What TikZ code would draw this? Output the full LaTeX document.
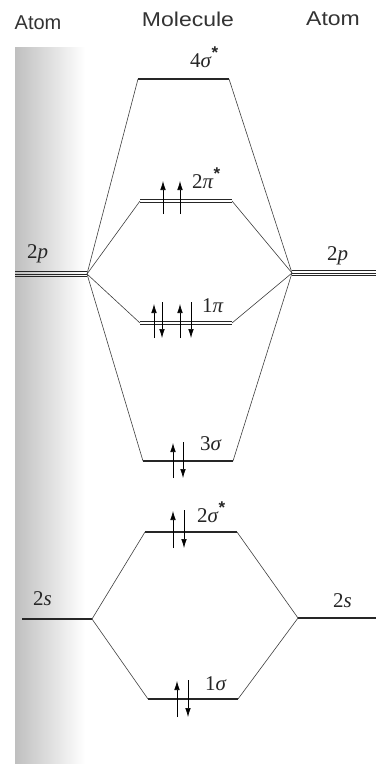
\documentclass[tikz,border=0pt]{standalone}
\usepackage{fontspec}
\setmainfont{Liberation Sans}
\newfontfamily\lserif{Liberation Serif}
\usetikzlibrary{arrows.meta}
\newcommand{\lvlab}[2]{{\lserif #1\textit{#2}}}
\newcommand{\strs}{\raisebox{0.42em}{\fontsize{17}{17}\selectfont\bfseries *}}
\begin{document}
\begin{tikzpicture}[x=1pt,y=-1pt,
  level/.style={line width=1.1pt,black!85},
  conn/.style={line width=0.6pt,black!75},
  elec/.style={line width=0.6pt,black,-{Latex[length=9pt,width=5.5pt]}},
  head/.style={font=\fontsize{20}{22}\selectfont,text=black!80,inner sep=0pt},
  lab/.style={font=\fontsize{21}{23}\selectfont,inner sep=0pt,anchor=base west,text=black!85}]
\useasboundingbox (0,0) rectangle (376,764);
\fill[white] (0,0) rectangle (376,764);
% page gutter shading of the scan
\shade[left color=black!25,right color=white] (15,47) rectangle (85,764);
% headings
\node[head] (hA1) at (38,23) {Atom};
\node[head] (hM) at (188,19) {\addfontfeatures{FakeStretch=1.15}Molecule};
\node[head] (hA2) at (333,19) {\addfontfeatures{FakeStretch=1.15}Atom};
% level end points
\coordinate (s4L) at (138,79);  \coordinate (s4R) at (229,79);
\coordinate (p2L) at (140,201); \coordinate (p2R) at (232,201);
\coordinate (p1L) at (140,323); \coordinate (p1R) at (232,323);
\coordinate (s3L) at (143,461); \coordinate (s3R) at (233,461);
\coordinate (s2L) at (145,532); \coordinate (s2R) at (237,532);
\coordinate (s1L) at (148,699); \coordinate (s1R) at (238,699);
\coordinate (ApA) at (15,274);  \coordinate (ApL) at (87,274);
\coordinate (BpR) at (292,273); \coordinate (BpB) at (376,273);
\coordinate (AsA) at (22,619);  \coordinate (AsL) at (92,619);
\coordinate (BsR) at (298,618); \coordinate (BsB) at (376,618);
% levels
\draw[level] (s4L) -- (s4R);
\foreach \d in {-1.6,1.6}{
  \draw[line width=0.8pt,black!85] ([yshift=\d]p2L) -- ([yshift=\d]p2R);
  \draw[line width=0.8pt,black!85] ([yshift=\d]p1L) -- ([yshift=\d]p1R);}
\foreach \d in {-2.4,0,2.4}{
  \draw[line width=0.7pt,black!85] ([yshift=\d]ApA) -- ([yshift=\d]ApL);
  \draw[line width=0.7pt,black!85] ([yshift=\d]BpR) -- ([yshift=\d]BpB);}
\draw[level] (s3L) -- (s3R);
\draw[level] (s2L) -- (s2R);
\draw[level] (s1L) -- (s1R);
\draw[level] (AsA) -- (AsL);
\draw[level] (BsR) -- (BsB);
% connectors
\foreach \t in {s4,p2,p1,s3}{
  \draw[conn] (ApL) -- (\t L);
  \draw[conn] (BpR) -- (\t R);}
\foreach \t in {s2,s1}{
  \draw[conn] (AsL) -- (\t L);
  \draw[conn] (BsR) -- (\t R);}
% labels
\node[lab] (l4) at (190,67) {\lvlab{4}{σ}\strs};
\node[lab] (l2p) at (192,188) {\lvlab{2}{π}\strs};
\node[lab] (l1p) at (202,312) {\lvlab{1}{π}};
\node[lab] (l3) at (200,450) {\lvlab{3}{σ}};
\node[lab] (l2s) at (197,522) {\lvlab{2}{σ}\strs};
\node[lab] (l1s) at (205,690) {\lvlab{1}{σ}};
\node[lab] (aL2p) at (27,258) {\lvlab{2}{p}};
\node[lab] (aR2p) at (327,260) {\lvlab{2}{p}};
\node[lab] (aL2s) at (33,605) {\lvlab{2}{s}};
\node[lab] (aR2s) at (333,607) {\lvlab{2}{s}};
% electrons
\draw[elec] (163,214) -- (163,181);
\draw[elec] (180,214) -- (180,181);
\draw[elec] (154,338) -- (154,304);
\draw[elec] (162,302) -- (162,338);
\draw[elec] (180,338) -- (180,304);
\draw[elec] (191,302) -- (191,338);
\draw[elec] (173,478) -- (173,443);
\draw[elec] (183,442) -- (183,478);
\draw[elec] (173,548) -- (173,511);
\draw[elec] (184,510) -- (184,548);
\draw[elec] (177,717) -- (177,681);
\draw[elec] (188,680) -- (188,717);
\end{tikzpicture}
\end{document}
